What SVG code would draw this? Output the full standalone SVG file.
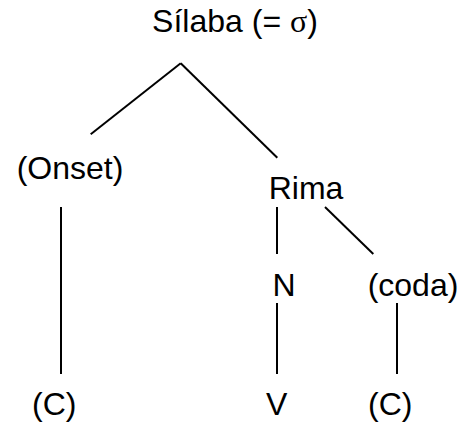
<svg xmlns="http://www.w3.org/2000/svg" width="463" height="426" viewBox="0 0 463 426">
<style>
.t{font-family:"Liberation Sans",Arial,sans-serif;font-size:32px;fill:#000;text-anchor:middle}
.s{font-family:"Liberation Serif","Times New Roman",serif}
.e{stroke:#000;stroke-width:2;fill:none}
</style>
<rect width="463" height="426" fill="#fff"/>
<g id="connectors">
<line class="e" x1="180.7" y1="63.3" x2="90.7" y2="134.3"/>
<line class="e" x1="180.7" y1="63.3" x2="277.3" y2="157.7"/>
<line class="e" x1="61" y1="207" x2="61" y2="374"/>
<line class="e" x1="277" y1="207" x2="277" y2="254"/>
<line class="e" x1="325" y1="207" x2="373.3" y2="254"/>
<line class="e" x1="277" y1="303" x2="277" y2="374"/>
<line class="e" x1="397" y1="303" x2="397" y2="374"/>
</g>
<g id="silaba"><text class="t" x="235" y="31.5">Sílaba (= <tspan class="s">σ</tspan>)</text></g>
<g id="onset"><text class="t" x="70" y="178.5">(Onset)</text></g>
<g id="rima"><text class="t" x="306" y="199">Rima</text></g>
<g id="n"><text class="t" x="284" y="296">N</text></g>
<g id="coda"><text class="t" x="413" y="296">(coda)</text></g>
<g id="c1"><text class="t" x="54.2" y="415">(C)</text></g>
<g id="v"><text class="t" x="276.7" y="415">V</text></g>
<g id="c2"><text class="t" x="390.3" y="415">(C)</text></g>
</svg>
